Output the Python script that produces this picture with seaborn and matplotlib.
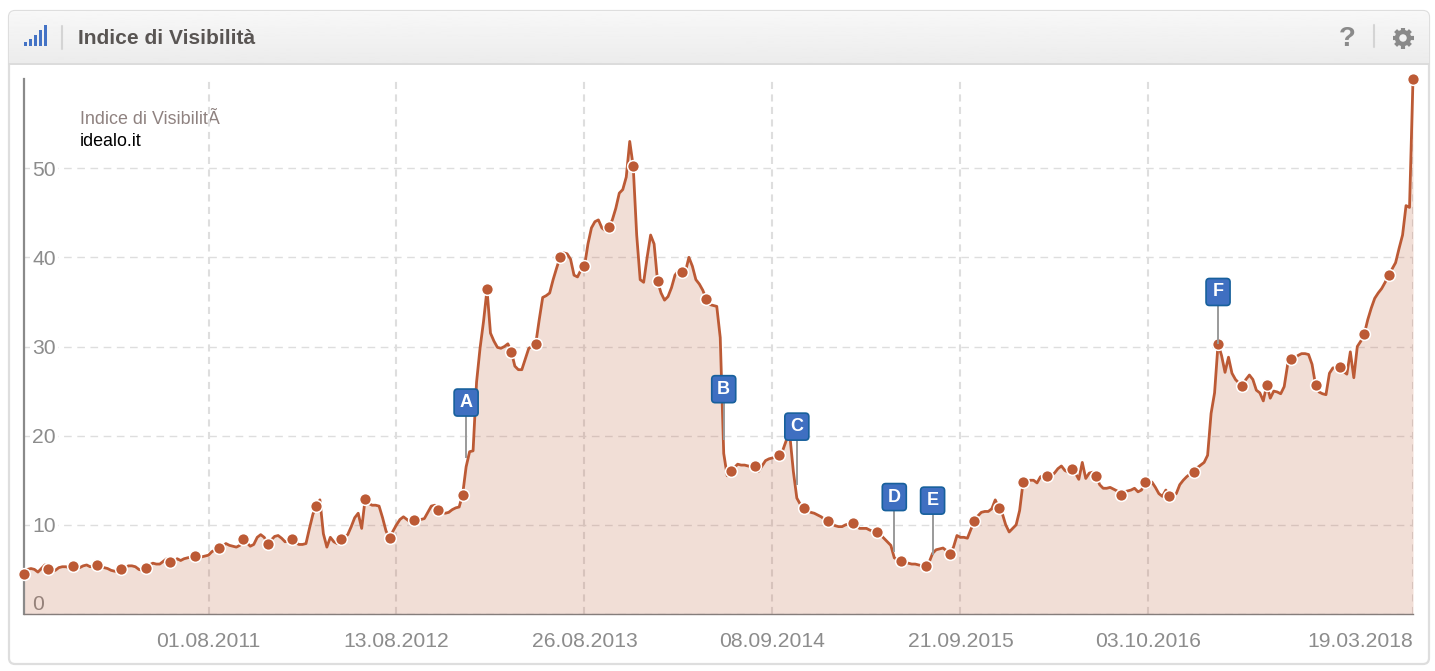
import numpy as np
import pandas as pd
import seaborn as sns
import matplotlib.pyplot as plt
import matplotlib.dates as mdates
from matplotlib.patches import FancyBboxPatch, Rectangle, Circle
from matplotlib.transforms import IdentityTransform

# weekly index values, one row = 7 weeks, first value of each row carries a marker
visibility = [
    4.5, 5.0, 5.1, 5.0, 4.7, 5.1, 5.5,
    5.0, 4.8, 4.9, 5.2, 5.3, 5.3, 5.2,
    5.4, 5.3, 5.2, 5.4, 5.5, 5.3, 5.4,
    5.5, 5.3, 5.2, 5.1, 4.9, 4.8, 4.8,
    5.0, 5.2, 5.4, 5.4, 5.3, 5.0, 4.9,
    5.2, 5.5, 5.7, 5.6, 5.6, 5.9, 6.2,
    5.8, 5.8, 6.2, 6.0, 6.2, 6.3, 6.4,
    6.5, 6.5, 6.4, 6.5, 6.6, 7.0, 7.2,
    7.4, 7.6, 7.9, 7.7, 7.6, 7.5, 7.7,
    8.4, 8.0, 7.6, 7.8, 8.6, 8.9, 8.6,
    7.9, 8.3, 8.7, 8.8, 8.5, 8.1, 8.2,
    8.4, 8.0, 7.8, 7.8, 7.9, 9.6, 11.2,
    12.1, 12.8, 9.0, 7.5, 8.6, 8.1, 7.9,
    8.4, 8.6, 8.9, 9.8, 10.8, 11.3, 9.6,
    12.9, 12.4, 12.2, 12.2, 12.1, 10.8, 9.3,
    8.5, 9.3, 10.0, 10.6, 10.9, 10.6, 10.3,
    10.5, 10.6, 10.6, 10.7, 11.4, 12.1, 12.2,
    11.7, 11.4, 11.3, 11.4, 11.7, 11.9, 12.0,
    13.4, 16.5, 18.2, 18.3, 26.0, 29.8, 32.8,
    36.4, 31.5, 30.6, 29.9, 29.8, 30.0, 30.3,
    29.4, 27.8, 27.4, 27.4, 28.6, 29.8, 30.0,
    30.3, 33.0, 35.5, 35.7, 36.0, 37.5, 38.8,
    40.0, 40.5, 40.4, 39.8, 38.0, 37.8, 38.6,
    39.0, 41.5, 43.3, 44.0, 44.2, 43.3, 43.0,
    43.4, 44.2, 45.5, 47.2, 47.6, 49.0, 53.0,
    50.2, 42.5, 37.5, 37.2, 40.0, 42.5, 41.5,
    37.3, 36.0, 35.2, 35.6, 36.6, 38.0, 38.5,
    38.3, 38.4, 40.0, 39.0, 37.5, 37.0, 36.3,
    35.3, 34.7, 34.6, 34.5, 31.0, 18.0, 15.5,
    16.0, 16.4, 16.8, 16.7, 16.7, 16.6, 16.5,
    16.6, 16.0, 16.6, 17.2, 17.4, 17.5, 17.6,
    17.8, 18.4, 19.5, 20.0, 16.0, 13.0, 12.3,
    11.9, 11.6, 11.4, 11.3, 11.1, 10.9, 10.6,
    10.4, 10.2, 9.9, 9.8, 9.8, 10.0, 10.1,
    10.2, 9.9, 9.6, 9.6, 9.6, 9.4, 9.3,
    9.2, 8.9, 8.5, 8.1, 7.7, 6.3, 6.1,
    6.0, 5.8, 5.7, 5.6, 5.6, 5.5, 5.4,
    5.4, 5.8, 6.8, 7.2, 7.3, 7.4, 7.1,
    6.7, 7.5, 8.8, 8.6, 8.6, 8.5, 9.5,
    10.4, 11.0, 11.4, 11.5, 11.5, 11.8, 12.8,
    11.9, 11.3, 10.0, 9.2, 9.6, 10.0, 11.6,
    14.8, 14.8, 15.0, 15.0, 14.7, 15.4, 15.5,
    15.5, 15.5, 15.8, 16.3, 16.6, 16.1, 15.9,
    16.3, 15.8, 15.1, 17.0, 15.2, 15.8, 15.9,
    15.5, 14.5, 14.1, 14.1, 14.2, 14.0, 13.8,
    13.3, 13.7, 13.8, 13.9, 14.1, 13.7, 13.9,
    14.8, 14.3, 14.8, 14.2, 13.5, 13.2, 13.9,
    13.2, 13.3, 13.5, 14.5, 15.0, 15.4, 15.7,
    15.9, 16.4, 16.7, 17.0, 17.8, 22.5, 24.8,
    30.3, 29.0, 27.1, 28.8, 27.0, 26.3, 25.9,
    25.6, 26.3, 26.8, 26.3, 25.1, 24.8, 23.9,
    25.7, 24.2, 25.0, 24.9, 24.7, 25.5, 28.0,
    28.6, 28.7, 29.0, 29.2, 29.2, 29.1, 28.0,
    25.7, 24.9, 24.7, 24.6, 27.0, 27.6, 27.6,
    27.7, 27.2, 26.9, 29.4, 26.5, 30.0, 30.6,
    31.4, 33.0, 34.3, 35.4, 36.0, 36.5, 37.2,
    38.0, 38.7, 39.4, 41.0, 42.5, 45.8, 45.6,
    60.0,
]
marker_step = 7
x_tick_dates = ['2011-08-01', '2012-08-13', '2013-08-26', '2014-09-08',
                '2015-09-21', '2016-10-03', '2018-03-19']
y_ticks = [0, 10, 20, 30, 40, 50]

flag_letters = ['A', 'B', 'C', 'D', 'E', 'F']
flag_weeks = [127, 201, 222, 250, 261, 343]
flag_stem_low = [17.5, 19.5, 14.5, 6.9, 6.6, 30.3]
flag_stem_high = [22.2, 23.7, 19.5, 11.6, 11.2, 34.6]

line_col = '#bc5a35'
grid_col = '#dedede'
tick_col = '#8c8c8c'

dates = pd.date_range('2010-07-26', periods=len(visibility), freq='7D')
df = pd.DataFrame({'date': dates, 'value': visibility})
markers = df.iloc[::marker_step]

sns.set_theme(style='white')
plt.rcParams['font.family'] = ['Liberation Sans', 'DejaVu Sans']
plt.rcParams['lines.scale_dashes'] = False

W, H = 1435, 671
fig = plt.figure(figsize=(W / 100, H / 100), dpi=100)

# panel and header live on a background axes in pixel units
bg = fig.add_axes([0, 0, 1, 1], zorder=0)
bg.set_xlim(0, W)
bg.set_ylim(H, 0)
bg.axis('off')
panel = FancyBboxPatch((9, 11), 1420, 653, boxstyle='round,pad=0,rounding_size=6',
                       fc='white', ec='#dedede', lw=1.6)
bg.add_patch(panel)
grad = np.linspace(0.97, 0.925, 50).reshape(-1, 1)
im = bg.imshow(grad, extent=(9, 1429, 63, 11), cmap='gray', vmin=0, vmax=1, aspect='auto', zorder=1.5)
im.set_clip_path(panel)
bg.set_xlim(0, W)
bg.set_ylim(H, 0)
bg.plot([9, 1429], [63.5, 63.5], color='#dcdcdc', lw=1.4)

bar_h = [4, 7, 11, 16, 21]
for i, h in enumerate(bar_h):
    bg.add_patch(Rectangle((23.5 + i * 5, 46 - h), 3.8, h, fc='#4473c5', ec='none', zorder=3))
bg.plot([62, 62], [26, 49], color='#d4d4d4', lw=1.5)
bg.plot([1374, 1374], [25, 47], color='#d4d4d4', lw=1.5)
bg.text(78, 38, 'Indice di Visibilità', fontsize=15.1, fontweight='bold', color='#595553', va='center')
bg.text(1347, 39, '?', fontsize=20, fontweight='bold', color='#8a8a8a', ha='center', va='center')

# gear icon
gear_x, gear_y = 1403, 38
for a in np.arange(8) * np.pi / 4:
    bg.plot([gear_x + 6 * np.cos(a), gear_x + 10.5 * np.cos(a)],
            [gear_y + 6 * np.sin(a), gear_y + 10.5 * np.sin(a)],
            color='#8a8a8a', lw=3.0, solid_capstyle='butt', zorder=3)
bg.add_patch(Circle((gear_x, gear_y), 6.0, fc='none', ec='#8a8a8a', lw=3.2, zorder=3))

bg.text(80, 119, 'Indice di VisibilitÃ', fontsize=12.9, color='#8f8280', va='center')
bg.text(80, 141, 'idealo.it', fontsize=12.9, color='black', va='center')

# plot area: 24..1413 px wide, 79..614 px tall, y max 60
ax = fig.add_axes([24 / W, 1 - 614 / H, (1413 - 24) / W, (614 - 79) / H], zorder=1)
ax.patch.set_alpha(0)
ax.set_axisbelow(True)
sns.lineplot(data=df, x='date', y='value', ax=ax, color=line_col, lw=2.0, zorder=3,
             clip_on=False, solid_joinstyle='round')
ax.fill_between(df['date'], df['value'], 0, color=line_col, alpha=0.2, lw=0, zorder=2)
sns.scatterplot(data=markers, x='date', y='value', ax=ax, s=72, color=line_col,
                edgecolor='white', linewidth=1.1, zorder=4, clip_on=False)

ax.set_xlim(dates[0], dates[-1])
ax.set_ylim(0, 60)
ax.set_xlabel('')
ax.set_ylabel('')
ax.set_xticks(pd.to_datetime(x_tick_dates))
ax.xaxis.set_major_formatter(mdates.DateFormatter('%d.%m.%Y'))
ax.set_yticks(y_ticks)
ax.grid(True, axis='y', color=grid_col, lw=1.0, dashes=(5.5, 4))
ax.grid(True, axis='x', color=grid_col, lw=1.5, dashes=(5.1, 3.9))
ax.tick_params(axis='x', length=0, pad=13, labelsize=15.2, labelcolor=tick_col)
ax.tick_params(axis='y', length=0, pad=-6, labelsize=15.2, labelcolor=tick_col)
for lab in ax.get_yticklabels():
    lab.set_ha('left')
    if lab.get_text() != '0':
        lab.set_bbox(dict(fc='white', ec='none', pad=1.5))
ax.get_yticklabels()[0].set_va('bottom')
ax.get_xticklabels()[-1].set_ha('right')

sns.despine(ax=ax, top=True, right=True)
ax.spines['left'].set_color('#8a8a8a')
ax.spines['left'].set_linewidth(1.6)
ax.spines['bottom'].set_color('#857d7b')
ax.spines['bottom'].set_linewidth(1)

# flags with a stem, box size fixed in pixels
fig.canvas.draw()
for letter, wk, low, high in zip(flag_letters, flag_weeks, flag_stem_low, flag_stem_high):
    d = dates[wk]
    ax.vlines(d, low, high, color='#9a9a9a', lw=1.4, zorder=5)
    px, py = ax.transData.transform((mdates.date2num(d), high))
    box = FancyBboxPatch((px - 12, py), 24, 27, boxstyle='round,pad=0,rounding_size=3.5',
                         fc='#3f6fc1', ec='#17609c', lw=1.2, transform=IdentityTransform(),
                         zorder=6, clip_on=False)
    ax.add_patch(box)
    ax.text(px, py + 13.5, letter, transform=IdentityTransform(), color='white',
            fontsize=13, fontweight='bold', ha='center', va='center', zorder=7)

fig.savefig('out.png', dpi=100)
